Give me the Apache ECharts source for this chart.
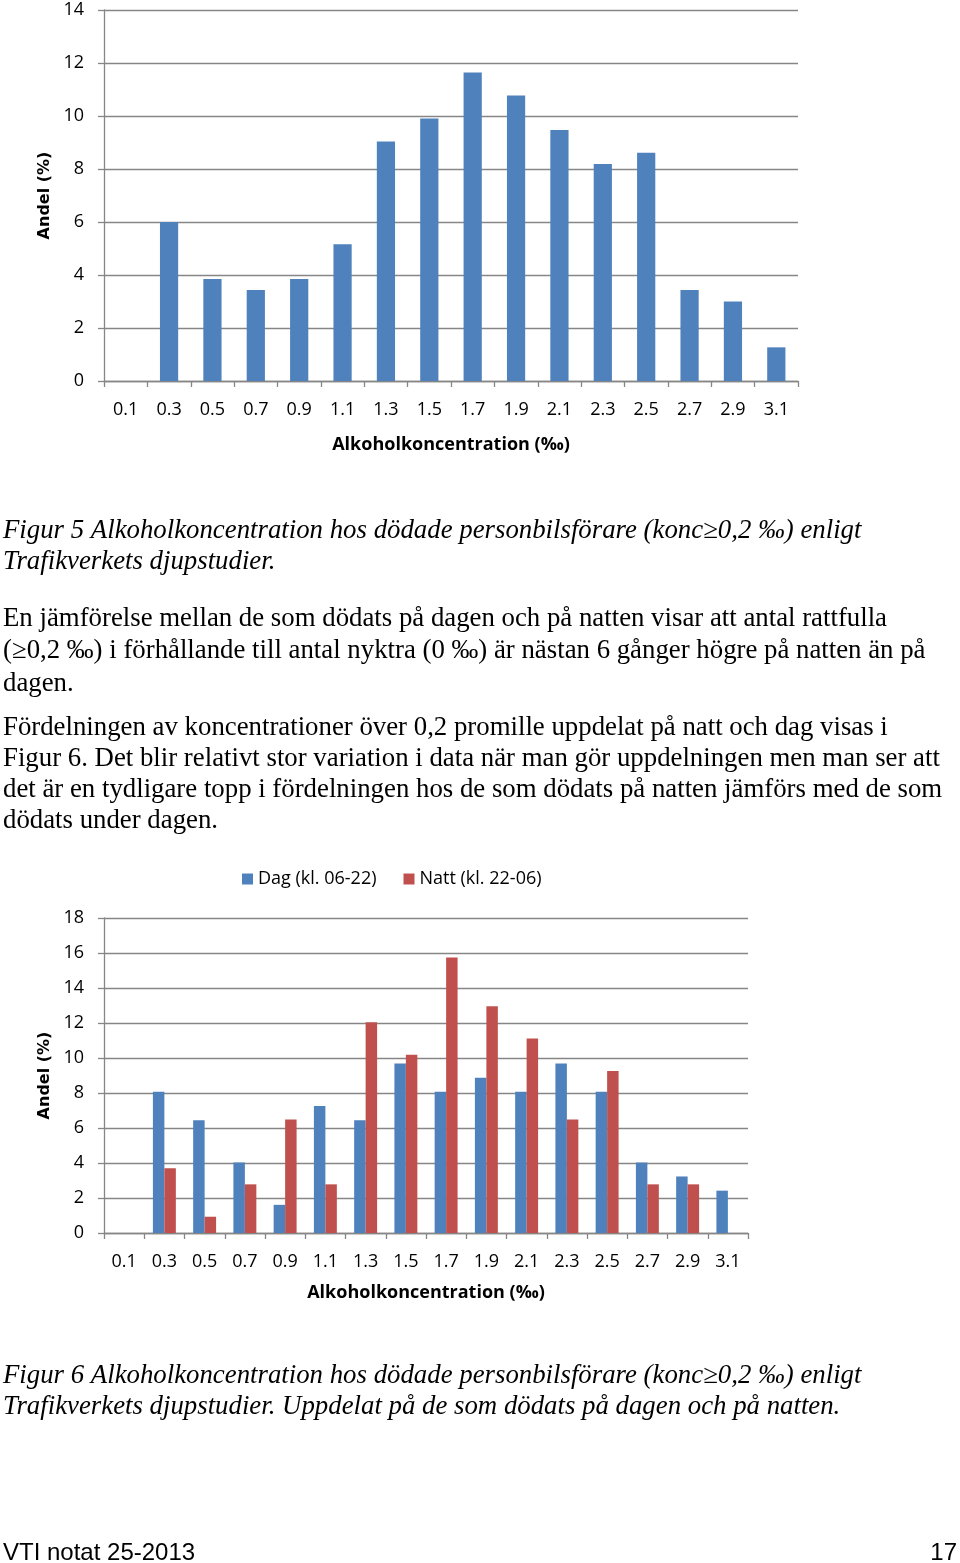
<!DOCTYPE html>
<html>
<head>
<meta charset="utf-8">
<script src="https://cdn.jsdelivr.net/npm/echarts@6/dist/echarts.min.js"></script>
<style>
html,body{margin:0;padding:0;background:#fff;}
#c{width:960px;height:1563px;}
</style>
</head>
<body>
<div id="c"></div>
<script>
// ---- data ----
const categories = ['0.1','0.3','0.5','0.7','0.9','1.1','1.3','1.5','1.7','1.9','2.1','2.3','2.5','2.7','2.9','3.1'];
const totalShare = [0, 6.0, 3.85, 3.43, 3.85, 5.16, 9.04, 9.91, 11.64, 10.77, 9.47, 8.19, 8.61, 3.43, 3.0, 1.27];
const dayShare   = [0, 8.07, 6.45, 4.03, 1.61, 7.26, 6.45, 9.68, 8.07, 8.87, 8.07, 9.68, 8.07, 4.03, 3.23, 2.42];
const nightShare = [0, 3.70, 0.93, 2.78, 6.48, 2.78, 12.04, 10.19, 15.74, 12.96, 11.11, 6.48, 9.26, 2.78, 2.78, 0];
const yTicks1 = {min: 0, max: 14, interval: 2};
const yTicks2 = {min: 0, max: 18, interval: 2};
const seriesNames = ['Dag (kl. 06-22)', 'Natt (kl. 22-06)'];
const yName = 'Andel (%)';
const xName = 'Alkoholkoncentration (‰)';
const caption5 = ['Figur 5 Alkoholkoncentration hos dödade personbilsförare (konc≥0,2 ‰) enligt', 'Trafikverkets djupstudier.'];
const para1 = ['En jämförelse mellan de som dödats på dagen och på natten visar att antal rattfulla', '(≥0,2 ‰) i förhållande till antal nyktra (0 ‰) är nästan 6 gånger högre på natten än på', 'dagen.'];
const para2 = ['Fördelningen av koncentrationer över 0,2 promille uppdelat på natt och dag visas i', 'Figur 6. Det blir relativt stor variation i data när man gör uppdelningen men man ser att', 'det är en tydligare topp i fördelningen hos de som dödats på natten jämförs med de som', 'dödats under dagen.'];
const caption6 = ['Figur 6 Alkoholkoncentration hos dödade personbilsförare (konc≥0,2 ‰) enligt', 'Trafikverkets djupstudier. Uppdelat på de som dödats på dagen och på natten.'];
const footerLeft = 'VTI notat 25-2013';
const footerRight = '17';

// ---- styles ----
const BLUE = '#4F81BD', RED = '#C0504D', GRID = '#868686';
const labelFont = {fontFamily: 'Open Sans', fontSize: 18, color: '#000'};

function xAxis(gridIndex, nameGap) {
  return {
    type: 'category', gridIndex, data: categories,
    axisLine: {show: true, lineStyle: {color: GRID, width: 1.3}},
    axisTick: {show: true, length: 6, alignWithLabel: false, lineStyle: {color: GRID, width: 1.3}},
    axisLabel: Object.assign({margin: 20, interval: 0}, labelFont),
    name: xName, nameLocation: 'middle', nameGap,
    nameTextStyle: {fontFamily: 'Open Sans', fontSize: 18, fontWeight: 'bold', color: '#000'}
  };
}
function yAxis(gridIndex, t, nameGap) {
  return {
    type: 'value', gridIndex, min: t.min, max: t.max, interval: t.interval,
    axisLine: {show: true, lineStyle: {color: GRID, width: 1.3}},
    axisTick: {show: true, length: 6, lineStyle: {color: GRID, width: 1.3}},
    splitLine: {show: true, lineStyle: {color: GRID, width: 1.3}},
    axisLabel: Object.assign({margin: 20}, labelFont),
    name: yName, nameLocation: 'middle', nameGap, nameRotate: 90,
    nameTextStyle: {fontFamily: 'DejaVu Sans', fontSize: 16, fontWeight: 'bold', color: '#000'}
  };
}

function textLines(lines, x, y0, step, style) {
  return lines.map((s, i) => ({
    type: 'text', left: x, top: y0 + i * step,
    style: Object.assign({text: s, fill: '#000'}, style)
  }));
}
const serif = {font: '26.8px "Liberation Serif"'};
const serifIt = {font: 'italic 26.8px "Liberation Serif"'};

const graphics = [].concat(
  textLines(caption5, 3, 517, 31, serifIt),
  textLines(para1, 3, 605, 32.5, serif),
  textLines(para2, 3, 714, 31, serif),
  textLines(caption6, 3, 1362, 31, serifIt),
  [{type: 'text', left: 3, top: 1541, style: {text: footerLeft, fill: '#000', font: '24px "Liberation Sans"'}},
   {type: 'text', right: 3, top: 1541, style: {text: footerRight, fill: '#000', font: '24px "Liberation Sans"'}}]
);

const chart = echarts.init(document.getElementById('c'), null, {renderer: 'canvas'});
chart.setOption({
  animation: false,
  backgroundColor: '#fff',
  grid: [
    {left: 104, top: 10, width: 694, height: 371},
    {left: 104, top: 918, width: 644, height: 315}
  ],
  legend: {
    data: seriesNames, left: 237, top: 865, icon: 'rect', itemWidth: 11, itemHeight: 11,
    itemGap: 27, textStyle: {fontFamily: 'Open Sans', fontSize: 18, color: '#000'}
  },
  xAxis: [xAxis(0, 55), xAxis(1, 51)],
  yAxis: [yAxis(0, yTicks1, 51), yAxis(1, yTicks2, 49)],
  series: [
    {type: 'bar', name: 'Andel', xAxisIndex: 0, yAxisIndex: 0, data: totalShare,
     barCategoryGap: '58%', itemStyle: {color: BLUE}},
    {type: 'bar', name: seriesNames[0], xAxisIndex: 1, yAxisIndex: 1, data: dayShare,
     barGap: '0%', barCategoryGap: '43%', itemStyle: {color: BLUE}},
    {type: 'bar', name: seriesNames[1], xAxisIndex: 1, yAxisIndex: 1, data: nightShare,
     barGap: '0%', barCategoryGap: '43%', itemStyle: {color: RED}}
  ],
  graphic: graphics
});
</script>
</body>
</html>
